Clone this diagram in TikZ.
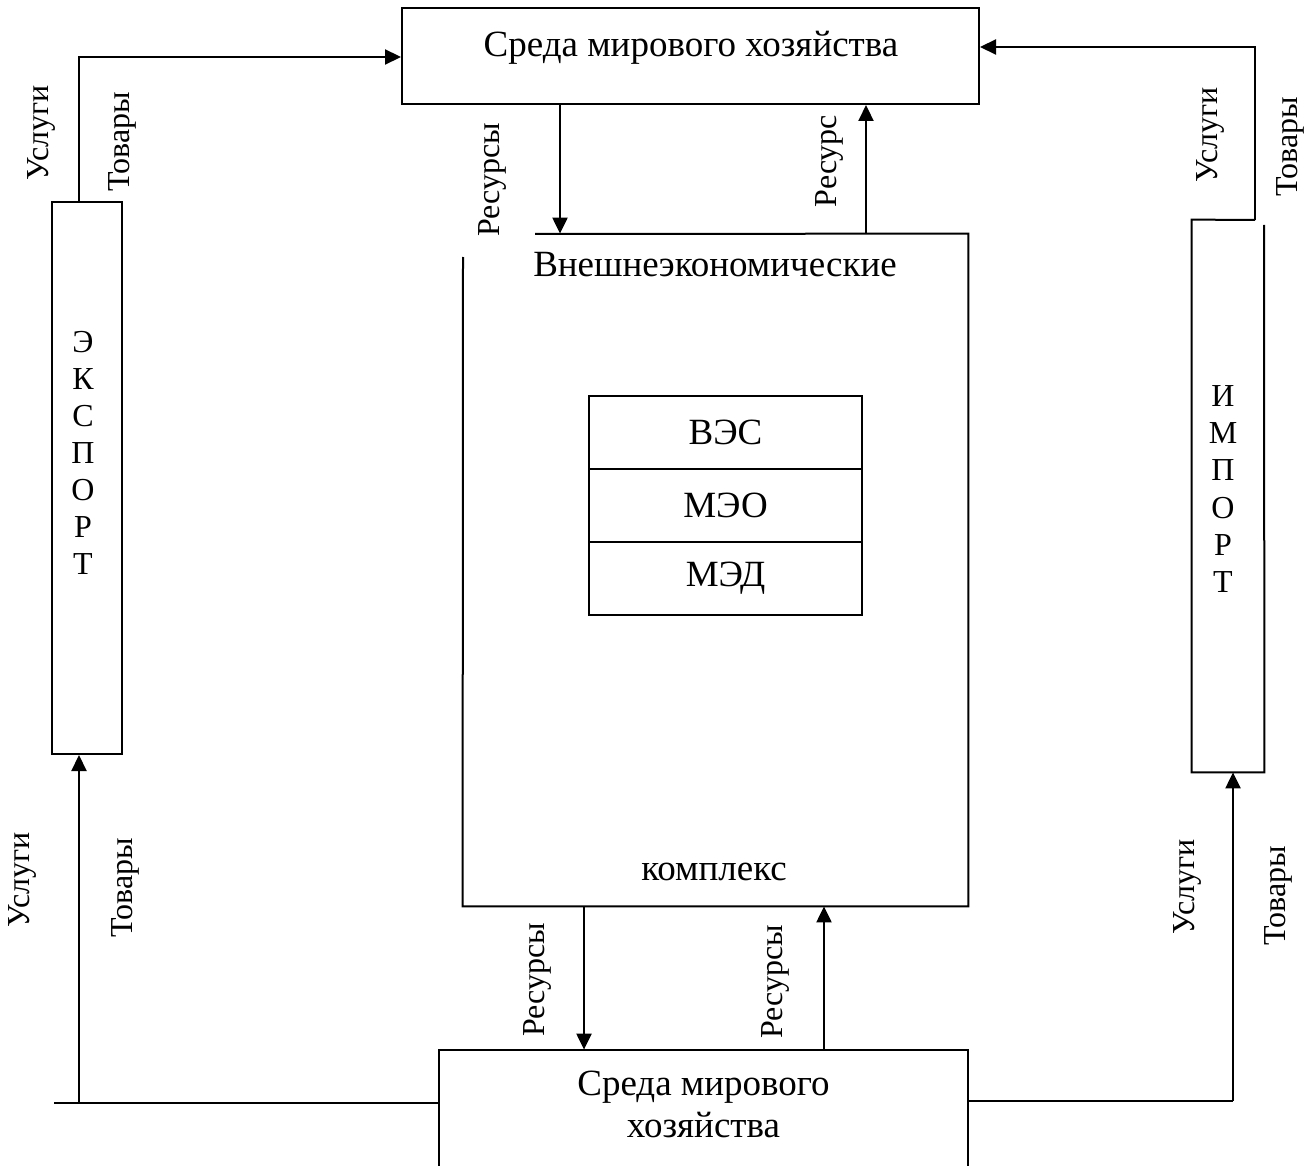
\documentclass[tikz,border=0pt]{standalone}
\usepackage{fontspec}
\setmainfont{Liberation Serif}
\usetikzlibrary{arrows.meta}
\begin{document}
\begin{tikzpicture}[x=0.5pt,y=-0.5pt,
  box/.style={draw, line width=1pt, rectangle, inner sep=0pt},
  ghost/.style={rectangle, inner sep=0pt},
  arr/.style={line width=1.1pt, -{Triangle[length=8pt,width=7.5pt]}},
  ln/.style={line width=1pt},
  big/.style={font=\fontsize{18.5pt}{22pt}\selectfont, inner sep=0pt},
  lbl/.style={font=\fontsize{16pt}{19pt}\selectfont, inner sep=0pt, rotate=90},
  col/.style={font=\fontsize{16pt}{18.55pt}\selectfont, inner sep=0pt, align=center},
]
\useasboundingbox (0,0) rectangle (1316,1166);

% boxes
\node[box, minimum width=288.5pt, minimum height=48pt] (topbox) at (690.5,56) {};
\node[big, anchor=base] (toptext) at (691,57) {Среда мирового хозяйства};

\node[box, minimum width=35pt, minimum height=276pt] (exp) at (87,478) {};
\node[col] (expt) at (83,453) {Э\\К\\С\\П\\О\\Р\\Т};

\node[ghost, minimum width=36pt, minimum height=276pt] (imp) at (1228,496) {};
\draw[ln] (1255,220) -- (imp.north west) -- (imp.south west) -- (imp.south east) -- (1264,225);
\node[col] (impt) at (1223,489) {И\\М\\П\\О\\Р\\Т};

\node[ghost, minimum width=252.5pt, minimum height=336pt] (cbox) at (715.5,570) {};
\draw[ln] (535,234) -- (cbox.north east) -- (cbox.south east) -- (cbox.south west) -- (463,257);
\node[big, anchor=base] (ct1) at (715,277) {Внешнеэкономические};
\node[big, anchor=base] (ct2) at (714,880) {комплекс};

\node[box, big, minimum width=136.5pt, minimum height=36.5pt] (r1) at (725.5,432.5) {ВЭС};
\node[box, big, minimum width=136.5pt, minimum height=36.5pt] (r2) at (725.5,505.5) {МЭО};
\node[box, big, minimum width=136.5pt, minimum height=36.5pt] (r3) at (725.5,578.5) {МЭД};

\node[ghost, minimum width=264.5pt, minimum height=60pt] (botbox) at (703.5,1110) {};
\draw[ln] (botbox.south west) -- (botbox.north west) -- (botbox.north east) -- (botbox.south east);
\node[big, anchor=base] (bt1) at (703.5,1095) {Среда мирового};
\node[big, anchor=base] (bt2) at (703.5,1137) {хозяйства};

% coordinates
\coordinate (eu) at (79,57);
\coordinate (iu) at (1255,47);
\coordinate (a1) at (560,0);
\coordinate (a2) at (866,0);
\coordinate (a3) at (584,0);
\coordinate (a4) at (824,0);
\coordinate (bl) at (54,1103);
\coordinate (ba) at (79,1103);
\coordinate (br) at (1233,1101);

% connectors
\draw[arr] (exp.north -| eu) -- (eu) -- (topbox.west |- eu);
\draw[arr] (imp.north -| iu) -- (iu) -- (topbox.east |- iu);
\draw[arr] (topbox.south -| a1) -- (cbox.north -| a1);
\draw[arr] (cbox.north -| a2) -- (topbox.south -| a2);
\draw[arr] (cbox.south -| a3) -- (botbox.north -| a3);
\draw[arr] (botbox.north -| a4) -- (cbox.south -| a4);
\draw[ln] (bl) -- (botbox.west |- bl);
\draw[arr] (ba) -- (exp.south -| ba);
\draw[ln] (botbox.east |- br) -- (br);
\draw[arr] (br) -- (imp.south -| br);

% labels
\node[lbl] (l1) at (41,133) {Услуги};
\node[lbl] (l2) at (122,142) {Товары};
\node[lbl] (l3) at (1210,135) {Услуги};
\node[lbl] (l4) at (1290,147) {Товары};
\node[lbl] (l5) at (22,880) {Услуги};
\node[lbl] (l6) at (125,888) {Товары};
\node[lbl] (l7) at (1187,887) {Услуги};
\node[lbl] (l8) at (1278,896) {Товары};
\node[lbl] (l9) at (492,180) {Ресурсы};
\node[lbl] (l10) at (829,161) {Ресурс};
\node[lbl] (l11) at (537,980) {Ресурсы};
\node[lbl] (l12) at (775,982) {Ресурсы};
\end{tikzpicture}
\end{document}
